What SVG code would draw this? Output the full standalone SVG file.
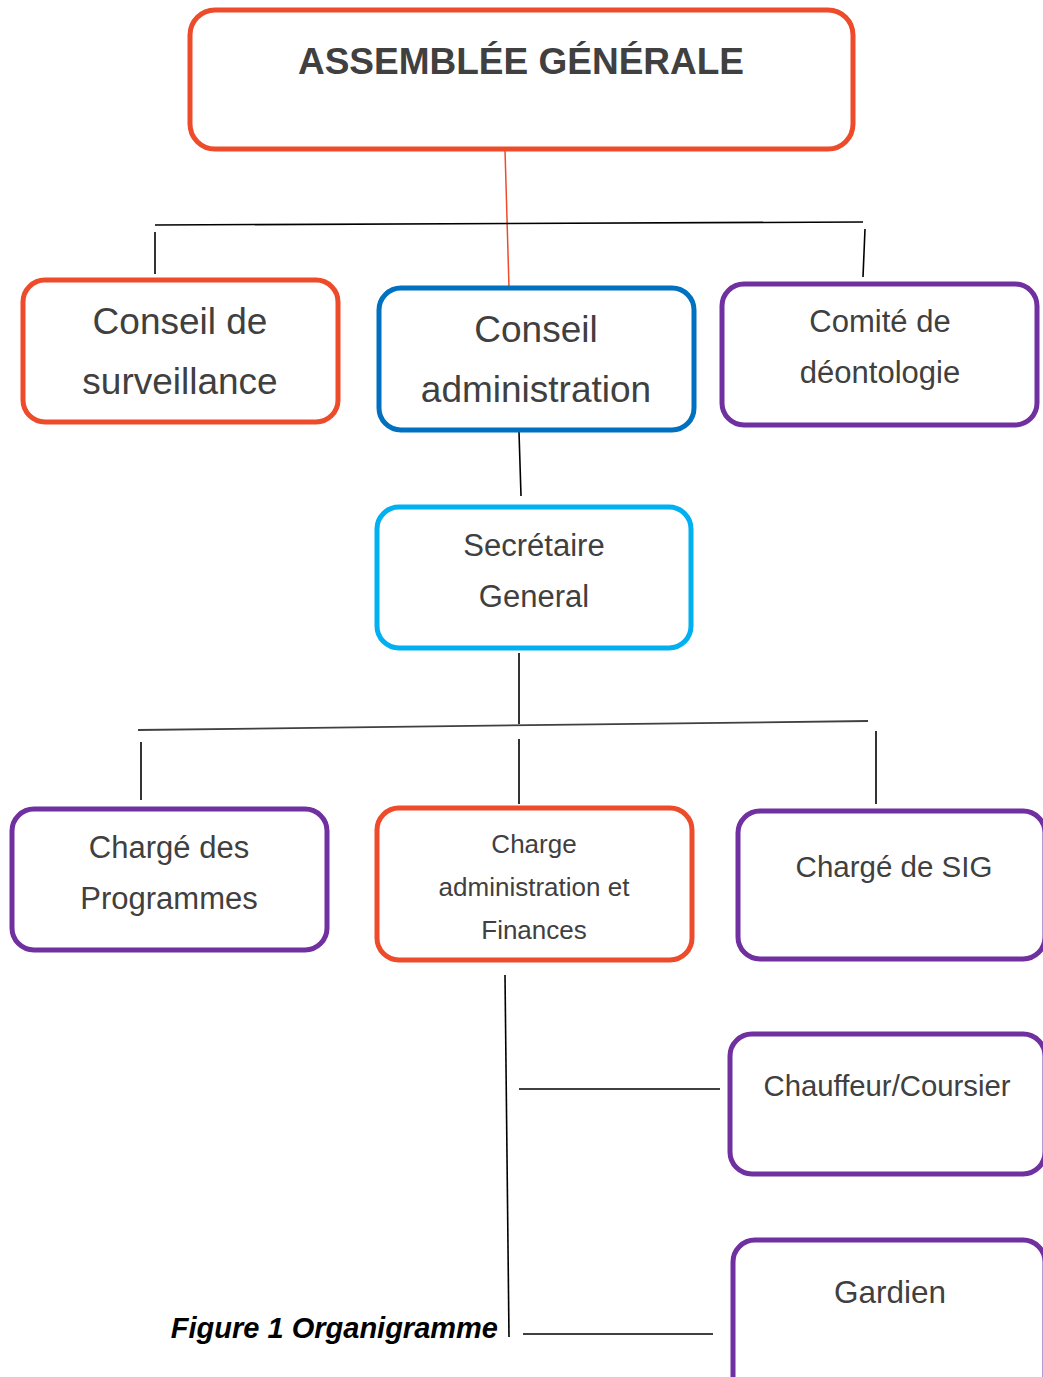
<svg xmlns="http://www.w3.org/2000/svg" width="1043" height="1377" viewBox="0 0 1043 1377">
<style>
.box{fill:#fff;stroke-width:5}
.red{stroke:#EE4B2B}
.blue{stroke:#0070C0}
.cyan{stroke:#00B0F0}
.purple{stroke:#7030A0}
.t{font-family:"Liberation Sans",Arial,sans-serif;fill:#404040;text-anchor:middle}
.ln{stroke:#000;stroke-width:1.6;fill:none}
</style>
<rect width="1043" height="1377" fill="#fff"/>
<g id="connectors">
<line x1="505" y1="150" x2="509" y2="287" stroke="#EE4B2B" stroke-width="1.5"/>
<line class="ln" x1="155" y1="225" x2="863" y2="222"/>
<line class="ln" x1="155" y1="232" x2="155" y2="274"/>
<line class="ln" x1="865" y1="229" x2="863" y2="277"/>
<line class="ln" x1="519" y1="432" x2="521" y2="496"/>
<line class="ln" x1="519" y1="653" x2="519" y2="724"/>
<line x1="138" y1="730" x2="868" y2="721" stroke="#404040" stroke-width="1.8"/>
<line class="ln" x1="141" y1="742" x2="141" y2="800"/>
<line class="ln" x1="519" y1="739" x2="519" y2="804"/>
<line class="ln" x1="876" y1="731" x2="876" y2="804"/>
<line class="ln" x1="505" y1="975" x2="509" y2="1337"/>
<line class="ln" x1="519" y1="1089" x2="720" y2="1089"/>
<line class="ln" x1="523" y1="1334" x2="713" y2="1334"/>
</g>
<g id="assemblee">
<rect class="box red" x="190" y="10" width="663" height="139" rx="25"/>
<text class="t" x="521" y="74" font-size="37" font-weight="bold">ASSEMBLÉE GÉNÉRALE</text>
</g>
<g id="conseil-surveillance">
<rect class="box red" x="23" y="280" width="315" height="142" rx="22"/>
<text class="t" x="180" y="334" font-size="37">Conseil de</text>
<text class="t" x="180" y="394" font-size="37">surveillance</text>
</g>
<g id="conseil-administration">
<rect class="box blue" x="379" y="288" width="315" height="142" rx="22"/>
<text class="t" x="536" y="342" font-size="37">Conseil</text>
<text class="t" x="536" y="402" font-size="37">administration</text>
</g>
<g id="comite-deontologie">
<rect class="box purple" x="722" y="284" width="315" height="141" rx="22"/>
<text class="t" x="880" y="332" font-size="31">Comité de</text>
<text class="t" x="880" y="383" font-size="31">déontologie</text>
</g>
<g id="secretaire-general">
<rect class="box cyan" x="377" y="507" width="314" height="141" rx="22"/>
<text class="t" x="534" y="556" font-size="31">Secrétaire</text>
<text class="t" x="534" y="607" font-size="31">General</text>
</g>
<g id="charge-programmes">
<rect class="box purple" x="12" y="809" width="315" height="141" rx="22"/>
<text class="t" x="169" y="858" font-size="31">Chargé des</text>
<text class="t" x="169" y="909" font-size="31">Programmes</text>
</g>
<g id="charge-admin-finances">
<rect class="box red" x="377" y="808" width="315" height="152" rx="22"/>
<text class="t" x="534" y="853" font-size="26">Charge</text>
<text class="t" x="534" y="896" font-size="26">administration et</text>
<text class="t" x="534" y="939" font-size="26">Finances</text>
</g>
<g id="charge-sig">
<rect class="box purple" x="738" y="811" width="307" height="148" rx="22"/>
<text class="t" x="894" y="877" font-size="29.5">Chargé de SIG</text>
</g>
<g id="chauffeur">
<rect class="box purple" x="730" y="1034" width="315" height="140" rx="22"/>
<text class="t" x="887" y="1096" font-size="29.3">Chauffeur/Coursier</text>
</g>
<g id="gardien">
<rect class="box purple" x="733" y="1240" width="312" height="160" rx="22"/>
<text class="t" x="890" y="1303" font-size="31.5">Gardien</text>
</g>
<text x="498" y="1338" font-family="Liberation Sans,Arial,sans-serif" font-size="29" font-weight="bold" font-style="italic" fill="#000" text-anchor="end">Figure 1 Organigramme</text>
</svg>
